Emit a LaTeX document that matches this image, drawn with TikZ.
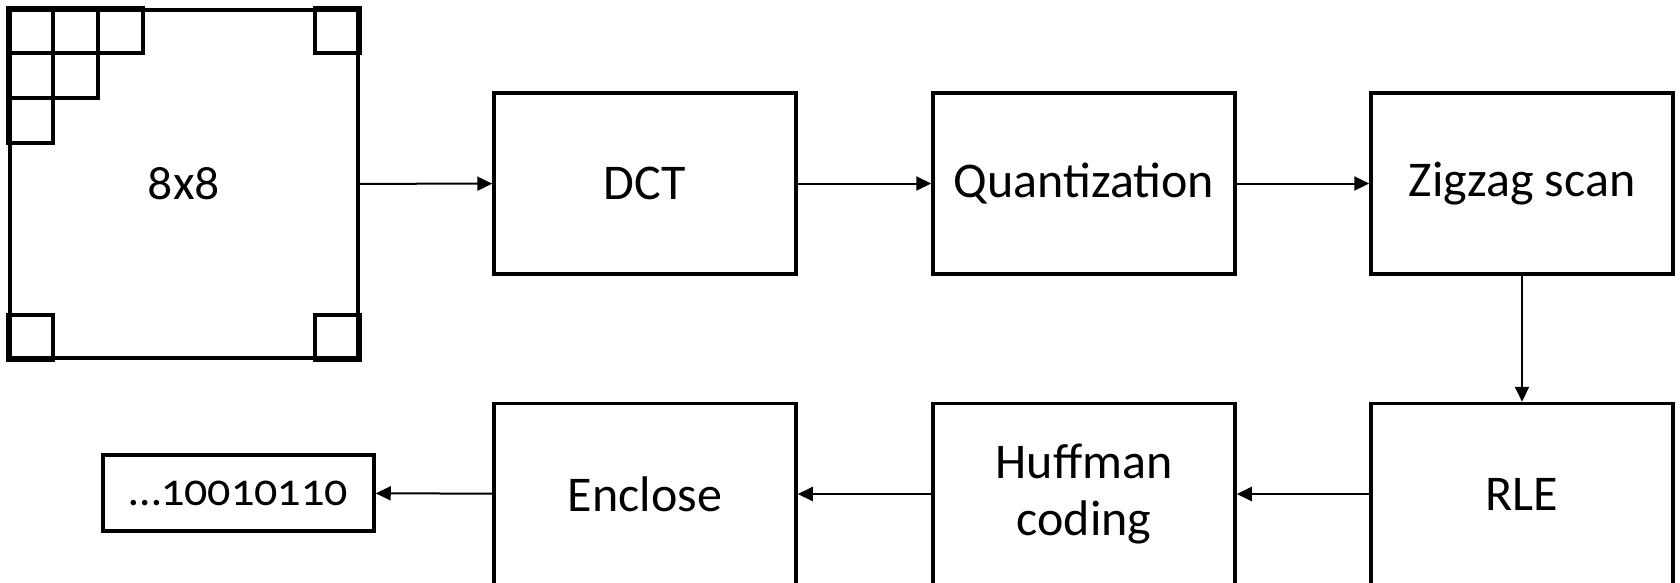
\documentclass[tikz,border=0pt]{standalone}
\usepackage{fontspec}
\setmainfont{Carlito}[Numbers=OldStyle]
\usetikzlibrary{arrows.meta,calc}
\tikzset{
  stage/.style={draw, line width=3.5pt, minimum width=302pt, minimum height=181pt,
    inner sep=0pt, align=center, font=\fontsize{50}{57}\selectfont},
  block/.style={draw, line width=3.5pt, minimum width=348pt, minimum height=348pt,
    inner sep=0pt, font=\fontsize{50}{57}\selectfont},
  outbox/.style={draw, line width=3.5pt, minimum width=271pt, minimum height=76pt,
    inner sep=0pt, font=\fontsize{46}{56}\selectfont},
  cell/.style={draw, line width=4pt, line join=miter},
  flow/.style={line width=2pt, -{Triangle[length=15pt,width=14pt]}}
}
\begin{document}
\begin{tikzpicture}[x=1pt, y=-1pt]
  \useasboundingbox (0,0) rectangle (1680,583);
  % 8x8 pixel block with a few marked cells
  \node[block] (blk) at (184,184) {8x8};
  \foreach \c/\r in {0/0,1/0,2/0,0/1,1/1,0/2}
    \draw[cell] ($(blk.north west)+(\c*45,\r*45)$) rectangle +(45,45);
  \draw[cell] ($(blk.north east)+(-45,0)$) rectangle +(45,45);
  \draw[cell] ($(blk.south west)+(0,-45)$) rectangle +(45,45);
  \draw[cell] ($(blk.south east)+(-45,-45)$) rectangle +(45,45);
  % processing stages
  \node[stage] (dct)  at (645,183.5)  {DCT};
  \node[stage] (quan) at (1084,183.5) {Quantization};
  \node[stage] (zig)  at (1522,183.5) {Zigzag scan};
  \node[stage] (rle)  at (1522,494)   {RLE};
  \node[stage] (huf)  at (1084,494)   {Huffman\\coding};
  \node[stage] (enc)  at (645,494)    {Enclose};
  \node[outbox] (out) at (238.5,493)  {…10010110};
  % data flow
  \draw[flow] (blk) -- (dct);
  \draw[flow] (dct) -- (quan);
  \draw[flow] (quan) -- (zig);
  \draw[flow] (zig) -- (rle);
  \draw[flow] (rle) -- (huf);
  \draw[flow] (huf) -- (enc);
  \draw[flow] (enc) -- (out);
\end{tikzpicture}
\end{document}
